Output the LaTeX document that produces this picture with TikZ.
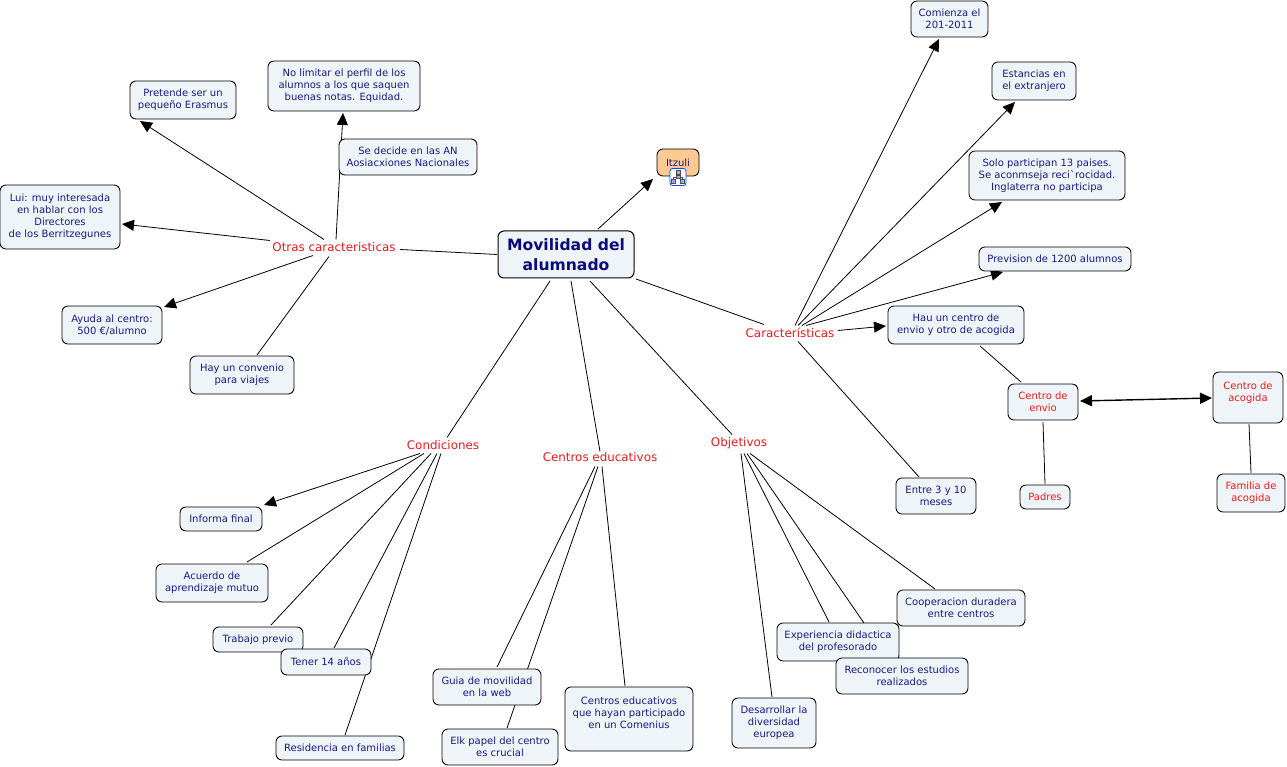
\documentclass[tikz,border=0pt]{standalone}
\usepackage{fontspec}
\setmainfont{DejaVu Sans}
\newfontfamily\plainf{DejaVu Sans}
\usetikzlibrary{arrows.meta,backgrounds}
\definecolor{boxfill}{HTML}{EEF4F7}
\definecolor{navytxt}{HTML}{1A1A80}
\definecolor{redtxt}{HTML}{E81C1C}
\definecolor{orangefill}{HTML}{FFC993}
\tikzset{
  x=1pt,y=-1pt,
  base/.style={draw=black,line width=0.85pt,rounded corners=6pt,fill=boxfill,align=center,inner sep=0pt,
    font=\fontsize{10}{12}\selectfont,text=navytxt},
  cbox/.style 2 args={base,minimum width=#1pt,minimum height=#2pt},
  redbox/.style 2 args={cbox={#1}{#2},text=redtxt},
  lab/.style={font=\fontsize{11.9}{14}\selectfont,text=redtxt,inner sep=0pt},
  conn/.style={line width=0.8pt,draw=black},
  tip/.style={conn,-{Triangle[length=12pt,width=11pt]}},
  both/.style={line width=1.4pt,draw=black,{Triangle[length=12pt,width=11pt]}-{Triangle[length=12pt,width=11pt]}},
}
\newcommand{\lnk}[5][conn]{\draw[#1] ([shift={(#3)}]#2.center) -- ([shift={(#5)}]#4.center);}
\begin{document}
\begin{tikzpicture}
\useasboundingbox (0,0) rectangle (1287,767);
% nodes
\node[cbox={136}{47},line width=1pt,font=\fontsize{15.6}{19.5}\selectfont\bfseries,text=navytxt!60!blue!70!black] (mov) at (566,254.5) {Movilidad del\\alumnado};
\node[cbox={42}{27},fill=orangefill] (itz) at (678,162.5) {Itzuli};
\node[cbox={77}{36}] (com) at (949.5,19) {Comienza el\\201-2011};
\node[cbox={84}{38}] (est) at (1034,81) {Estancias en\\el extranjero};
\node[cbox={156}{49}] (sol) at (1047,175.5) {Solo participan 13 paises.\\Se aconmseja reci{\plainf `}rocidad.\\Inglaterra no participa};
\node[cbox={152}{24}] (prv) at (1055,259) {Prevision de 1200 alumnos};
\node[cbox={136}{38}] (hau) at (956,325) {Hau un centro de\\envio y otro de acogida};
\node[redbox={70}{36}] (env) at (1043,402) {Centro de\\envio};
\node[redbox={70}{51}] (aco) at (1248,397.5) {Centro de\\acogida\\\mbox{}};
\node[redbox={50}{24}] (pad) at (1045,497) {Padres};
\node[redbox={68}{38}] (fam) at (1251,493) {Familia de\\acogida};
\node[cbox={80}{36}] (ent) at (936,496) {Entre 3 y 10\\meses};
\node[cbox={106}{38}] (pre) at (183,100) {Pretende ser un\\pequeño Erasmus};
\node[cbox={152}{50}] (nol) at (344,86) {No limitar el perfil de los\\alumnos a los que saquen\\buenas notas. Equidad.};
\node[cbox={138}{36}] (sed) at (408,157) {Se decide en las AN\\Aosiacxiones Nacionales};
\node[cbox={120}{64}] (lui) at (60,217) {Lui: muy interesada\\en hablar con los\\Directores\\de los Berritzegunes};
\node[cbox={100}{38}] (ayu) at (112,325) {Ayuda al centro:\\500 €/alumno};
\node[cbox={104}{38}] (hay) at (242,375) {Hay un convenio\\para viajes};
\node[cbox={82}{24}] (inf) at (221,519) {Informa final};
\node[cbox={112}{38}] (acu) at (212,583) {Acuerdo de\\aprendizaje mutuo};
\node[cbox={90}{25}] (tra) at (258,639.5) {Trabajo previo};
\node[cbox={90}{26}] (ten) at (326,662) {Tener 14 años};
\node[cbox={128}{24}] (res) at (340,748) {Residencia en familias};
\node[cbox={108}{36}] (gui) at (487,687) {Guia de movilidad\\en la web};
\node[cbox={116}{36}] (elk) at (500,747) {Elk papel del centro\\es crucial};
\node[cbox={128}{64}] (cen) at (629,719) {Centros educativos\\que hayan participado\\en un Comenius\\\mbox{}};
\node[cbox={84}{50}] (des) at (774,723) {Desarrollar la\\diversidad\\europea};
\node[cbox={122}{38}] (exp) at (838,642) {Experiencia didactica\\del profesorado};
\node[cbox={132}{36}] (rec) at (902,676) {Reconocer los estudios\\realizados};
\node[cbox={128}{36}] (coo) at (961,608) {Cooperacion duradera\\entre centros};
\node[lab] (car) at (790,332.5) {Características};
\node[lab] (obj) at (739,443.5) {Objetivos};
\node[lab] (ced) at (600,457.5) {Centros educativos};
\node[lab] (con) at (443,445.5) {Condiciones};
\node[lab] (otr) at (334,247.5) {Otras caracteristicas};
% map icon on Itzuli
\node[draw=blue!70!cyan,fill=white,line width=0.8pt,rounded corners=2.5pt,minimum width=16pt,minimum height=17pt,inner sep=0pt] (icon) at (678,177) {};
\begin{scope}[line width=0.6pt,draw=black!70,fill=blue!35]
\draw[black!70] (678,172.5) -- (678,177) (673.5,177) -- (682.5,177) (673.5,177) -- (673.5,180) (682.5,177) -- (682.5,180);
\filldraw (676,170.5) rectangle (680,174);
\filldraw (671.5,179) rectangle (675.5,183);
\filldraw (680.5,179) rectangle (684.5,183);
\filldraw (676,175) rectangle (680,178.5);
\end{scope}
% connectors
\begin{pgfonlayer}{background}
\lnk[tip]{mov}{32,-25.5}{itz}{-25,16.5}
\lnk{mov}{-69,0}{otr}{66,2}
\lnk{mov}{70,24.5}{car}{-26,-8}
\lnk{mov}{-16,26.5}{con}{4,-8}
\lnk{mov}{5,26.5}{ced}{0,-6}
\lnk{mov}{24,26.5}{obj}{-7,-9}
\lnk[tip]{otr}{-10,-8}{pre}{-43,21}
\lnk[tip]{otr}{2,-8}{nol}{-1,27}
\lnk[tip]{otr}{-64,-7}{lui}{62,7}
\lnk[tip]{otr}{-21,8}{ayu}{52,-18}
\lnk{otr}{-5,9}{hay}{15,-20}
\lnk[tip]{car}{5,-7}{com}{-10.5,20}
\lnk[tip]{car}{8,-7}{est}{-19,21}
\lnk[tip]{car}{12,-7}{sol}{-45,26.5}
\lnk[tip]{car}{16,-7}{prv}{-52,13}
\lnk[tip]{car}{48,-2}{hau}{-70,1}
\lnk{car}{8,9}{ent}{-17,-19}
\lnk{hau}{24,21}{env}{-22,-20}
\lnk[both]{env}{37,-1}{aco}{-36,0.5}
\lnk{env}{0,20}{pad}{0,-13}
\lnk{aco}{1,26.5}{fam}{0,-20}
\lnk[tip]{con}{-23,8}{inf}{43,-14}
\lnk{con}{-19,8}{acu}{35,-21}
\lnk{con}{-12,8}{tra}{13,-14.5}
\lnk{con}{-6,8}{ten}{8,-14}
\lnk{con}{-2,8}{res}{5,-13}
\lnk{ced}{-5,9}{gui}{10,-20}
\lnk{ced}{-2,9}{elk}{7,-19}
\lnk{ced}{2,9}{cen}{-4,-33}
\lnk{obj}{2,10}{des}{-2,-26}
\lnk{obj}{5,10}{exp}{-9,-20}
\lnk{obj}{8,10}{rec}{-38,-53}
\lnk{obj}{11,10}{coo}{-26,-19}
\end{pgfonlayer}
\end{tikzpicture}
\end{document}
